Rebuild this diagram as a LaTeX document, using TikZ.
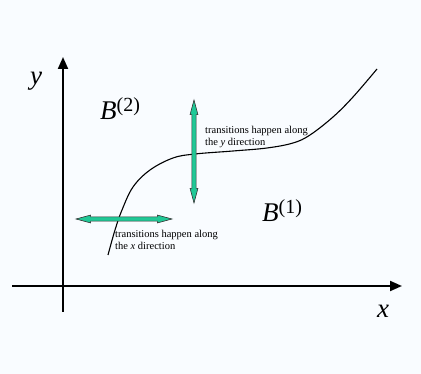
\documentclass[tikz,border=0pt]{standalone}
\usepackage{fontspec}
\setmainfont{Liberation Serif}
\usetikzlibrary{arrows.meta,shapes.arrows}
\definecolor{bgblue}{RGB}{249,252,255}
\definecolor{transgreen}{RGB}{32,200,150}
\tikzset{
  axis/.style={line width=2pt,-{Triangle[length=12pt,width=10pt]}},
  transarrow/.style={shape=double arrow,draw=black!80,line width=0.6pt,fill=transgreen,
    inner sep=1.8pt,double arrow head extend=1.8pt,double arrow tip angle=30},
  note/.style={align=left,anchor=north west,inner sep=0pt,font=\fontsize{10.5}{12}\selectfont},
  region/.style={anchor=base west,inner sep=0pt,font=\fontsize{27}{27}\selectfont}
}
\newcommand{\regionlabel}[1]{\textit{B}\raisebox{8pt}{\fontsize{20}{20}\selectfont(#1)}}

\begin{document}
\begin{tikzpicture}[x=1pt,y=-1pt]
  \fill[bgblue] (0,0) rectangle (421,374);
  \useasboundingbox (0,0) rectangle (421,374);
  % axes
  \coordinate (ybot) at (63,312);
  \coordinate (ytop) at (63,57);
  \coordinate (xleft) at (12,286);
  \coordinate (xright) at (402,286);
  \draw[axis] (ybot) -- (ytop);
  \draw[axis] (xleft) -- (xright);
  \node[region] (ylab) at (30,85) {\itshape y};
  \node[region] (xlab) at (377,318) {\itshape x};
  % regions
  \node[region] (b2) at (100,120) {\regionlabel{2}};
  \node[region] (b1) at (262,222) {\regionlabel{1}};
  % boundary
  \draw[line width=1.1pt] plot[smooth,tension=0.6] coordinates {(108,255) (115,230) (122,210)
    (133,187) (150,170) (173,158) (195,154) (233,151) (267,148) (293,143) (310,135)
    (333,117) (353,97) (377,69)};
  % transitions
  \node[transarrow,minimum height=103pt,rotate=90] (ytrans) at (194,151.5) {};
  \node[transarrow,minimum height=96pt] (xtrans) at (124,219) {};
  \node[note] (ynote) at (205,126) {transitions happen along\\the \textit{y} direction};
  \node[note] (xnote) at (115,230) {transitions happen along\\the \textit{x} direction};
\end{tikzpicture}
\end{document}
